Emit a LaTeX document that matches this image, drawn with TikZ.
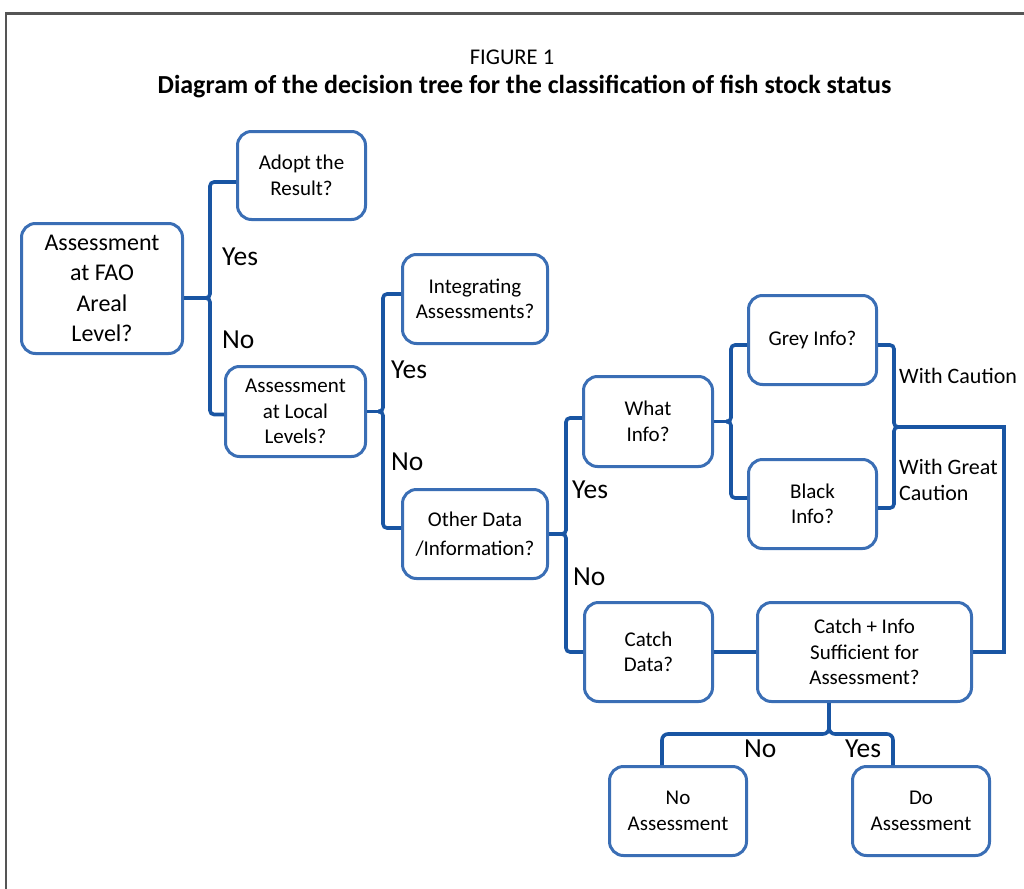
\documentclass[tikz,border=0pt]{standalone}
\usepackage{fontspec}
\setmainfont{Carlito}
\definecolor{boxblue}{RGB}{58,110,181}
\definecolor{lineblue}{RGB}{25,85,163}
\definecolor{framegray}{RGB}{85,85,85}
\begin{document}
\begin{tikzpicture}[x=1pt,y=-1pt,
  box/.style={draw=boxblue, line width=3pt, rounded corners=14pt, fill=white, align=center, inner sep=2pt, font=\fontsize{21}{25.5}\selectfont},
  conn/.style={draw=lineblue, line width=3.6pt, rounded corners=4pt},
  lbl/.style={inner sep=0pt, anchor=west, font=\fontsize{27.5}{30}\selectfont},
  note/.style={inner sep=0pt, anchor=west, align=left, font=\fontsize{22}{26}\selectfont}]
\useasboundingbox (0,0) rectangle (1024,888);
\draw[framegray, line width=2.5pt] (6,890) -- (6,13.5) -- (1026,13.5);

\node[font=\fontsize{22.5}{26}\selectfont, inner sep=0pt] (t1) at (512,57) {FIGURE 1};
\node[font=\bfseries\fontsize{26}{30}\selectfont, inner sep=0pt] (t2) at (524.5,86.5) {Diagram of the decision tree for the classification of fish stock status};

\node[box, minimum width=161pt, minimum height=130pt, font=\fontsize{24}{30.5}\selectfont] (A) at (102,288.5) {Assessment\\at FAO\\Areal\\Level?};
\node[box, minimum width=128pt, minimum height=88pt] (B) at (301.5,175.5) {Adopt the\\Result?};
\node[box, minimum width=140pt, minimum height=90pt] (C) at (295.5,411.5) {Assessment\\at Local\\Levels?};
\node[box, minimum width=145pt, minimum height=89pt] (D) at (475,299) {Integrating\\Assessments?};
\node[box, minimum width=145pt, minimum height=89pt] (E) at (475,534) {Other Data\\[4pt]/Information?};
\node[box, minimum width=129pt, minimum height=90pt] (F) at (648,421.5) {What\\Info?};
\node[box, minimum width=128pt, minimum height=89pt] (G) at (812.5,340) {Grey Info?};
\node[box, minimum width=128pt, minimum height=89pt] (H) at (812.5,504) {Black\\Info?};
\node[box, minimum width=128pt, minimum height=99pt] (I) at (648.5,652) {Catch\\Data?};
\node[box, minimum width=214pt, minimum height=99pt] (J) at (864.5,652) {Catch + Info\\Sufficient for\\Assessment?};
\node[box, minimum width=137pt, minimum height=89pt] (K) at (678,811) {No\\Assessment};
\node[box, minimum width=137pt, minimum height=89pt] (L) at (921,811) {Do\\Assessment};

% bracket 1
\coordinate (x1) at (210,0);
\path ([yshift=-9.5pt]A.east -| x1) coordinate (jA);
\draw[conn] ([yshift=-6.5pt]B.west) -| (jA) -- ++(-5,0);
\draw[conn] ([yshift=-3pt]C.west) -| (jA) -- ++(-5,0);
\draw[conn] ([yshift=-9.5pt]A.east) -- (jA);
% bracket 2
\coordinate (x2) at (383,0);
\path (C.east -| x2) coordinate (jC);
\draw[conn] ([yshift=5pt]D.west) -| (jC) -- ++(-5,0);
\draw[conn] ([yshift=6pt]E.west) -| (jC) -- ++(-5,0);
\draw[conn] (C.east) -- (jC);
% bracket 3
\coordinate (x3) at (566,0);
\path (E.east -| x3) coordinate (jE);
\draw[conn] ([yshift=3.5pt]F.west) -| (jE) -- ++(-5,0);
\draw[conn] (I.west) -| (jE) -- ++(-5,0);
\draw[conn] (E.east) -- (jE);
% bracket 4
\coordinate (x4) at (731,0);
\path (F.east -| x4) coordinate (jF);
\draw[conn] ([yshift=-5pt]G.west) -| (jF) -- ++(-5,0);
\draw[conn] ([yshift=6pt]H.west) -| (jF) -- ++(-5,0);
\draw[conn] (F.east) -- (jF);
% merge
\coordinate (jG) at (894,427);
\coordinate (cR) at (1004,427);
\draw[conn] ([yshift=-5pt]G.east) -| (jG) -- ++(5,0);
\draw[conn] ([yshift=-4pt]H.east) -| (jG) -- ++(5,0);
\draw[conn, rounded corners=0pt] (jG) -- (cR) |- (J.east);
\draw[conn] (I.east) -- (J.west);
% bottom
\coordinate (jB) at (829,734);
\draw[conn, rounded corners=6pt] ([xshift=-35.5pt]J.south) -- (jB) -| ([xshift=-16pt]K.north);
\draw[conn, rounded corners=6pt] ([xshift=-35.5pt]J.south) -- (jB) -| ([xshift=-28pt]L.north);

% labels
\node[lbl] (y1) at (222,257) {Yes};
\node[lbl] (n1) at (222,340) {No};
\node[lbl] (y2) at (391,370) {Yes};
\node[lbl] (n2) at (391,462) {No};
\node[lbl] (y3) at (572,490) {Yes};
\node[lbl] (n3) at (573,577) {No};
\node[lbl] (n4) at (744,749) {No};
\node[lbl] (y4) at (845,749) {Yes};
\node[note] (wc) at (899,376) {With Caution};
\node[note] (wgc) at (899,480) {With Great\\Caution};
\end{tikzpicture}
\end{document}
